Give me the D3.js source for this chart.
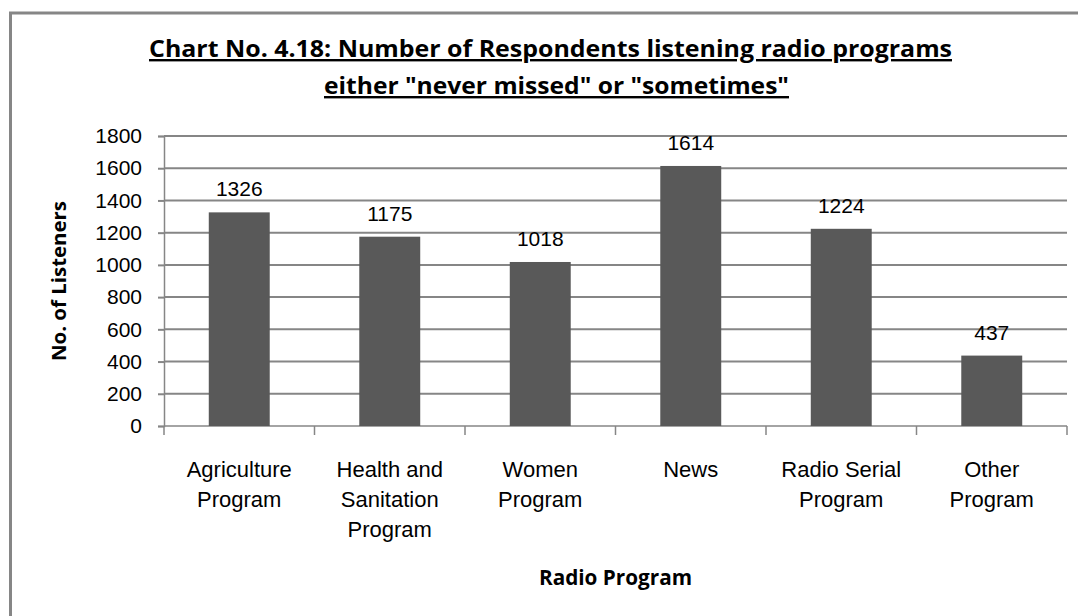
<!DOCTYPE html>
<html>
<head>
<meta charset="utf-8">
<script src="https://cdn.jsdelivr.net/npm/d3@7"></script>
<style>
  body { margin: 0; background: #fff; }
  text { font-family: "Open Sans", "Liberation Sans", sans-serif; }
</style>
</head>
<body>
<div id="chart"></div>
<script>
// chart data
var programs = ["Agriculture Program", "Health and Sanitation Program", "Women Program", "News", "Radio Serial Program", "Other Program"];
var programLines = [["Agriculture", "Program"], ["Health and", "Sanitation", "Program"], ["Women", "Program"], ["News"], ["Radio Serial", "Program"], ["Other", "Program"]];
var listeners = [1326, 1175, 1018, 1614, 1224, 437];
var yTicks = [0, 200, 400, 600, 800, 1000, 1200, 1400, 1600, 1800];

var svgWidth = 1078;
var svgHeight = 616;

// plot area inside the chart frame
var margin = { top: 136, right: 11, bottom: 190, left: 164 };
var width = svgWidth - margin.left - margin.right;
var height = svgHeight - margin.top - margin.bottom;

var labelFont = "'Liberation Sans', sans-serif";

var svg = d3.select("#chart")
    .append("svg")
    .attr("width", svgWidth)
    .attr("height", svgHeight);

// outer chart border (runs off the window on right/bottom)
svg.append("rect")
    .attr("x", 10.5)
    .attr("y", 13)
    .attr("width", 1100)
    .attr("height", 700)
    .attr("fill", "none")
    .attr("stroke", "#868686")
    .attr("stroke-width", 3);

var g = svg.append("g")
    .attr("transform", `translate(${margin.left}, ${margin.top})`);

var x = d3.scaleBand()
    .domain(programs)
    .range([0, width])
    .paddingInner(0.595)
    .paddingOuter(0.2975);

var y = d3.scaleLinear()
    .domain([0, 1800])
    .range([height, 0]);

// gridlines
g.selectAll(".grid")
    .data(yTicks.filter(d => d > 0))
    .enter()
    .append("line")
    .attr("x1", 0)
    .attr("x2", width)
    .attr("y1", d => y(d))
    .attr("y2", d => y(d))
    .attr("stroke", "#868686")
    .attr("stroke-width", 2);

// y axis
var leftAxis = d3.axisLeft(y)
    .tickValues(yTicks)
    .tickFormat(d3.format("d"))
    .tickSize(6)
    .tickPadding(16);

var yAxis = g.append("g").call(leftAxis);
yAxis.select(".domain").attr("stroke", "#868686").attr("stroke-width", 1.5);
yAxis.selectAll(".tick line").attr("stroke", "#868686").attr("stroke-width", 2);
yAxis.selectAll(".tick text")
    .attr("font-size", 21)
    .attr("fill", "#000")
    .style("font-family", labelFont);

// x axis baseline + tick marks at category boundaries
var step = x.step();
g.append("line")
    .attr("x1", 0)
    .attr("x2", width)
    .attr("y1", y(0))
    .attr("y2", y(0))
    .attr("stroke", "#868686")
    .attr("stroke-width", 1.5);

g.selectAll(".xtick")
    .data(d3.range(programs.length + 1))
    .enter()
    .append("line")
    .attr("x1", i => i * step)
    .attr("x2", i => i * step)
    .attr("y1", y(0))
    .attr("y2", y(0) + 9)
    .attr("stroke", "#868686")
    .attr("stroke-width", 1.5);

// bars
g.selectAll(".bar")
    .data(listeners)
    .enter()
    .append("rect")
    .attr("x", (d, i) => x(programs[i]))
    .attr("y", d => y(d))
    .attr("width", x.bandwidth())
    .attr("height", d => height - y(d))
    .attr("fill", "#595959");

// value labels
g.selectAll(".val")
    .data(listeners)
    .enter()
    .append("text")
    .attr("x", (d, i) => x(programs[i]) + x.bandwidth() / 2)
    .attr("y", d => y(d) - 16)
    .attr("text-anchor", "middle")
    .attr("font-size", 21)
    .style("font-family", labelFont)
    .text(d => d);

// category labels
programLines.forEach(function(lines, i) {
    var t = g.append("text")
        .attr("text-anchor", "middle")
        .attr("font-size", 22)
        .style("font-family", labelFont)
        .attr("fill", "#000");
    lines.forEach(function(line, j) {
        t.append("tspan")
            .attr("x", x(programs[i]) + x.bandwidth() / 2)
            .attr("y", height + 51 + j * 30)
            .text(line);
    });
});

// axis titles
svg.append("text")
    .attr("transform", "rotate(-90)")
    .attr("x", -281)
    .attr("y", 66)
    .attr("text-anchor", "middle")
    .attr("font-size", 20)
    .attr("font-weight", "bold")
    .attr("textLength", 160)
    .attr("lengthAdjust", "spacingAndGlyphs")
    .text("No. of Listeners");

svg.append("text")
    .attr("x", margin.left + width / 2)
    .attr("y", 585)
    .attr("text-anchor", "middle")
    .attr("font-size", 21)
    .attr("font-weight", "bold")
    .attr("textLength", 153)
    .attr("lengthAdjust", "spacingAndGlyphs")
    .text("Radio Program");

// title
var titleLines = ["Chart No. 4.18: Number of Respondents listening radio programs", "either \"never missed\" or \"sometimes\""];
var titleX = [550.5, 556.5];
var titleLen = [803, 465];
svg.selectAll(".title")
    .data(titleLines)
    .enter()
    .append("text")
    .attr("x", (d, i) => titleX[i])
    .attr("y", (d, i) => 57 + i * 37)
    .attr("text-anchor", "middle")
    .attr("font-size", 24)
    .attr("font-weight", "bold")
    .attr("textLength", (d, i) => titleLen[i])
    .attr("lengthAdjust", "spacingAndGlyphs")
    .style("text-decoration", "underline")
    .text(d => d);
</script>
</body>
</html>
